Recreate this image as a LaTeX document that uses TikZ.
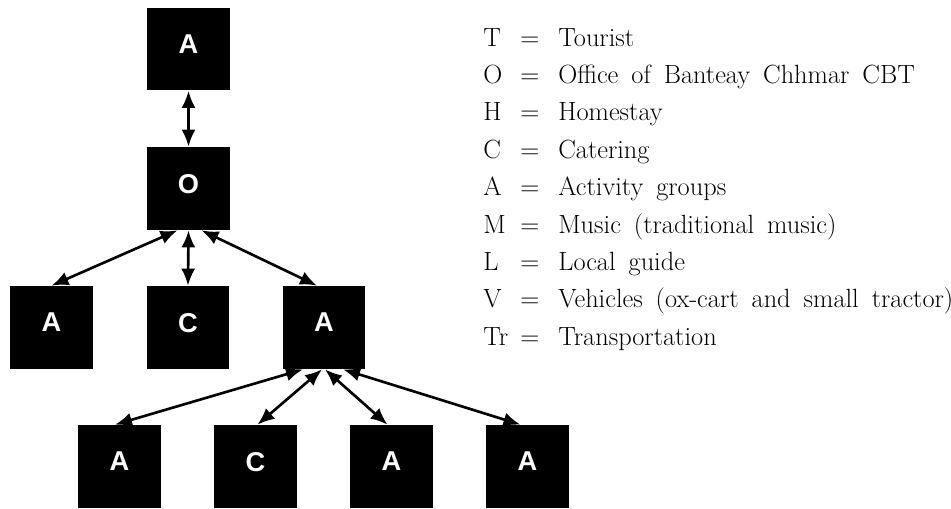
\documentclass[tikz,border=0pt]{standalone}
\usepackage{fontspec}
\newfontfamily\boxfont{Liberation Sans}
\usetikzlibrary{arrows.meta}

\newcommand{\keyline}[2]{\spaceskip=7.4pt\relax\makebox[0.74cm][l]{#1}\makebox[0.76cm][l]{=}#2}

\begin{document}
\begin{tikzpicture}[x=0.02cm,y=-0.02cm]
        \tikzstyle{box}=[fill=black,minimum size=1.66cm,inner sep=0pt,text=white,text depth=0.2cm,font=\boxfont\bfseries\fontsize{15.5}{18}\selectfont]
        \tikzstyle{link}=[line width=1.5pt,{Latex[length=0.34cm,width=0.28cm]}-{Latex[length=0.34cm,width=0.28cm]}]
        \tikzstyle{legend}=[anchor=base west,inner sep=0pt,font=\fontsize{15}{18}\selectfont]

        \useasboundingbox (0,0) rectangle (951,508);

        \node[box] (a1) at (188.5,49) {A};
        \node[box] (o) at (188.5,188.5) {O};

        \node[box] (a2) at (51.5,327.5) {A};
        \node[box] (c1) at (188,327.5) {C};
        \node[box] (a3) at (324,327.5) {A};

        \node[box] (a4) at (119.5,466.5) {A};
        \node[box] (c2) at (255.5,466.5) {C};
        \node[box] (a5) at (391.5,466.5) {A};
        \node[box] (a6) at (527.5,466.5) {A};

        \draw[link] (a1) -- (o);

        \draw[link] ([xshift=-0.22cm]o.south) -- (a2.north);
        \draw[link] (o.south) -- (c1.north);
        \draw[link] ([xshift=0.26cm]o.south) -- ([xshift=-0.14cm]a3.north);

        \draw[link] ([xshift=-0.42cm]a3.south) -- ([xshift=-0.09cm]a4.north);
        \draw[link] ([xshift=-0.04cm]a3.south) -- ([xshift=0.04cm]c2.north);
        \draw[link] ([xshift=0.02cm]a3.south) -- ([xshift=-0.08cm]a5.north);
        \draw[link] ([xshift=0.38cm]a3.south) -- ([xshift=-0.14cm]a6.north);

        \node[legend] (kT) at (483,46) {\keyline{T}{Tourist}};
        \node[legend] (kO) at (483,83.4) {\keyline{O}{Office of Banteay Chhmar CBT}};
        \node[legend] (kH) at (483,120.8) {\keyline{H}{Homestay}};
        \node[legend] (kC) at (483,158.2) {\keyline{C}{Catering}};
        \node[legend] (kA) at (483,195.6) {\keyline{A}{Activity groups}};
        \node[legend] (kM) at (483,233) {\keyline{M}{Music (traditional music)}};
        \node[legend] (kL) at (483,270.4) {\keyline{L}{Local guide}};
        \node[legend] (kV) at (483,307.8) {\keyline{V}{Vehicles (ox-cart and small tractor)}};
        \node[legend] (kTr) at (483,345.2) {\keyline{Tr}{Transportation}};

    \end{tikzpicture}
\end{document}
